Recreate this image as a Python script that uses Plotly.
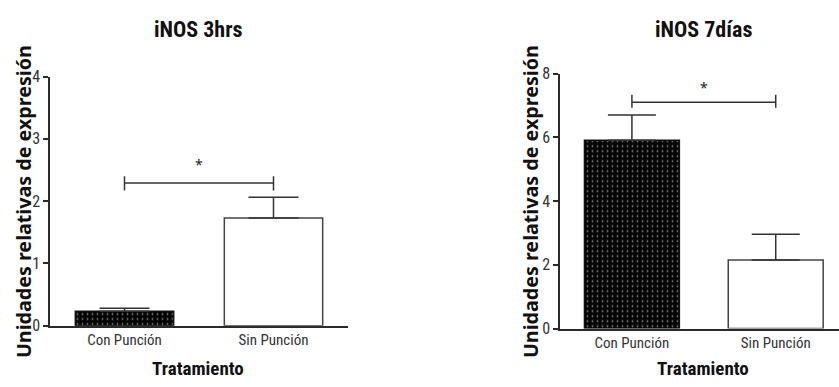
import plotly.graph_objects as go

# iNOS relative expression, two time points
categories = ["Con Punción", "Sin Punción"]

inos_3h_mean = [0.23, 1.73]
inos_3h_sem = [0.05, 0.33]

inos_7d_mean = [5.91, 2.15]
inos_7d_sem = [0.79, 0.81]

y_ticks_3h = [0, 1, 2, 3, 4]
y_ticks_7d = [0, 2, 4, 6, 8]

# significance brackets: (lower tick end, bracket level, upper tick end, star level)
sig_3h = [2.17, 2.29, 2.40, 2.58]
sig_7d = [6.93, 7.10, 7.34, 7.55]

NARROW = "Liberation Sans Narrow, Roboto Condensed, Arial Narrow, Roboto, sans-serif"
WIDE = "Noto Sans, DejaVu Sans, sans-serif"
AXIS_COLOR = "#2a2a2a"
TEXT_COLOR = "#333333"

fig = go.Figure()


def add_panel(fig, means, sems, sig, xa, ya, cap):
    xref = "x" if xa == "xaxis" else "x2"
    yref = "y" if ya == "yaxis" else "y2"
    fig.add_trace(go.Bar(
        x=categories, y=means,
        xaxis=xref, yaxis=yref,
        width=0.66,
        marker=dict(
            color=["#050505", "#ffffff"],
            line=dict(color=["#111111", "#444444"], width=1.5),
            pattern=dict(shape=[".", ""], fgcolor="#8a8a8a",
                         size=5, solidity=0.1, fillmode="overlay"),
        ),
        error_y=dict(type="data", symmetric=False, array=sems,
                     arrayminus=[0, 0], color="#333333", thickness=1.5, width=cap),
        showlegend=False, hoverinfo="skip",
    ))
    lo, mid, hi, star = sig
    c0, c1 = categories
    fig.add_trace(go.Scatter(
        x=[c0, c0, None, c0, c1, None, c1, c1],
        y=[lo, hi, None, mid, mid, None, lo, hi],
        xaxis=xref, yaxis=yref, mode="lines",
        line=dict(color="#333333", width=1.5),
        showlegend=False, hoverinfo="skip",
    ))
    fig.add_annotation(x=0.5, y=star, xref=xref, yref=yref, text="*",
                       showarrow=False, font=dict(family=WIDE, size=14, color="#222"))


add_panel(fig, inos_3h_mean, inos_3h_sem, sig_3h, "xaxis", "yaxis", 25)
add_panel(fig, inos_7d_mean, inos_7d_sem, sig_7d, "xaxis2", "yaxis2", 24)

xcommon = dict(type="category", showline=True, linecolor=AXIS_COLOR, linewidth=1.5,
               ticks="", showgrid=False, zeroline=False,
               tickfont=dict(family=NARROW, size=15, color=TEXT_COLOR))
ycommon = dict(showline=True, linecolor=AXIS_COLOR, linewidth=1.5,
               ticks="outside", ticklen=5, tickwidth=1.5, tickcolor=AXIS_COLOR,
               showgrid=False, zeroline=False,
               tickfont=dict(family=NARROW, size=16, color=TEXT_COLOR))

fig.update_layout(
    width=839, height=387,
    margin=dict(l=0, r=0, t=0, b=0),
    paper_bgcolor="white", plot_bgcolor="white",
    xaxis=dict(domain=[50 / 839, 348 / 839], range=[-0.5, 1.5], anchor="y", **xcommon),
    yaxis=dict(domain=[(387 - 333) / 387, (387 - 71) / 387], range=[0, 4],
               tickvals=y_ticks_3h, anchor="x", **ycommon),
    xaxis2=dict(domain=[560 / 839, 1.0], range=[-0.5, 1.44], anchor="y2", **xcommon),
    yaxis2=dict(domain=[(387 - 336) / 387, (387 - 68) / 387], range=[0, 8],
                tickvals=y_ticks_7d, anchor="x2", **ycommon),
)

titles = [
    ("iNOS 3hrs", 198, 22),
    ("iNOS 7días", 703, 22),
]
for text, px, py in titles:
    fig.add_annotation(x=px / 839, y=1 - py / 387, xref="paper", yref="paper",
                       text=f"<b>{text}</b>", showarrow=False,
                       xanchor="center", yanchor="middle",
                       font=dict(family=NARROW, size=22, color="#111"))

for px in (198, 703):
    fig.add_annotation(x=px / 839, y=1 - 378 / 387, xref="paper", yref="paper",
                       text="<b>Tratamiento</b>", showarrow=False,
                       xanchor="center", yanchor="middle",
                       font=dict(family=NARROW, size=19, color="#111"))

for px, py in ((23, 203), (530, 203)):
    fig.add_annotation(x=px / 839, y=1 - py / 387, xref="paper", yref="paper",
                       text="<b>Unidades relativas de expresión</b>", showarrow=False,
                       textangle=-90, xanchor="center", yanchor="middle",
                       font=dict(family=WIDE, size=19.7, color="#111"))

fig.write_html("out.html")
